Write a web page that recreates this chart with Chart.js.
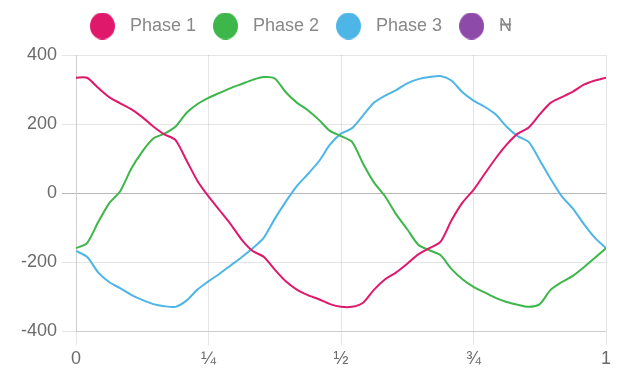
<!DOCTYPE html>
<html lang="en">
<head>
  <meta charset="utf-8" />
  <title>Three phase waveform</title>
  <script src="https://cdn.jsdelivr.net/npm/chart.js"></script>
  <style>
    html, body { margin: 0; padding: 0; background: #fff; }
    .wrap { position: relative; width: 619px; height: 372px; }
  </style>
</head>
<body>
  <div class="wrap"><canvas id="chart-phases"></canvas></div>

  <script>
    // one reading every 1/48 of the period
    const xTicks = ['0', '¼', '½', '¾', '1'];
    const seriesNames = ['Phase 1', 'Phase 2', 'Phase 3', 'N'];
    const seriesColors = ['#e0186c', '#3db64a', '#4db6e6', '#8e4aa8'];

    const phase1 = [334, 334, 305, 278, 260, 243, 220, 193, 170, 154, 95, 35, -10,
      -50, -90, -135, -168, -185, -222, -256, -280, -296, -308, -322, -330,
      -330, -318, -280, -250, -230, -205, -178, -160, -142, -80, -28, 9,
      55, 100, 140, 172, 190, 228, 262, 278, 294, 314, 326, 334];
    const phase2 = [-160, -145, -85, -30, 5, 70, 120, 158, 172, 192, 232, 258, 276,
      290, 304, 316, 328, 336, 332, 292, 262, 240, 212, 180, 165,
      148, 85, 30, -10, -62, -105, -150, -166, -180, -220, -250, -272,
      -288, -304, -316, -324, -330, -322, -280, -258, -240, -215, -188, -160];
    const phase3 = [-168, -185, -230, -258, -276, -295, -310, -322, -328, -330, -312, -280, -256,
      -234, -210, -186, -160, -130, -75, -25, 20, 55, 92, 140, 172,
      188, 225, 262, 282, 298, 318, 330, 336, 339, 326, 292, 268,
      250, 228, 192, 165, 148, 95, 40, -10, -45, -90, -130, -160];
    const neutral = []; // hidden in the legend

    const steps = phase1.length - 1;
    const positions = phase1.map((v, i) => i / steps);

    // round legend markers, a bit taller than wide like the original
    function dot(color) {
      const c = document.createElement('canvas');
      c.width = 25;
      c.height = 27;
      const g = c.getContext('2d');
      g.fillStyle = color;
      g.beginPath();
      g.ellipse(12.5, 13.5, 12.5, 13.5, 0, 0, Math.PI * 2);
      g.fill();
      return c;
    }

    function line(i, values) {
      return {
        label: seriesNames[i],
        data: values,
        borderColor: seriesColors[i],
        backgroundColor: seriesColors[i],
        borderWidth: 2,
        tension: 0.25,
        pointRadius: 0,
        pointHoverRadius: 0,
        pointStyle: dot(seriesColors[i]),
        fill: false
      };
    }

    const datasets = [line(0, phase1), line(1, phase2), line(2, phase3), line(3, neutral)];
    datasets[3].hidden = true;

    // extra room under the legend, and nudge it a little to the left
    const legendGap = {
      id: 'legendGap',
      beforeInit(chart) {
        const fit = chart.legend.fit;
        chart.legend.fit = function () {
          fit.call(this);
          this.height += 10;
        };
      },
      afterLayout(chart) {
        chart.legend.left -= 5;
        chart.legend.right -= 5;
      }
    };

    const tickFont = { family: "'Liberation Sans', Arial, sans-serif", size: 18 };
    const gridGrey = 'rgba(0,0,0,0.1)';

    new Chart(document.getElementById('chart-phases').getContext('2d'), {
      type: 'line',
      data: { labels: positions, datasets },
      options: {
        responsive: true,
        maintainAspectRatio: false,
        animation: false,
        layout: { padding: { top: 6, right: 13, bottom: 0, left: 0 } },
        plugins: {
          legend: {
            labels: {
              usePointStyle: true,
              pointStyleWidth: 37,
              padding: 11,
              color: '#888',
              font: tickFont
            }
          },
          tooltip: { enabled: false }
        },
        scales: {
          x: {
            type: 'linear',
            min: 0,
            max: 1,
            ticks: {
              stepSize: 0.25,
              callback: v => xTicks[Math.round(v * 4)],
              color: '#6b6b6b',
              font: tickFont,
              padding: 3,
              maxRotation: 0
            },
            grid: { color: gridGrey, tickLength: 14 },
            border: { color: gridGrey },
            afterFit(scale) { scale.height = 41; }
          },
          y: {
            min: -400,
            max: 400,
            ticks: { stepSize: 200, color: '#6b6b6b', font: tickFont, padding: 5 },
            grid: {
              color: ctx => ctx.tick && ctx.tick.value === 0 ? 'rgba(0,0,0,0.28)' : gridGrey,
              tickLength: 14
            },
            border: { color: gridGrey },
            afterFit(scale) { scale.width = 76; }
          }
        }
      },
      plugins: [legendGap]
    });
  </script>
</body>
</html>
